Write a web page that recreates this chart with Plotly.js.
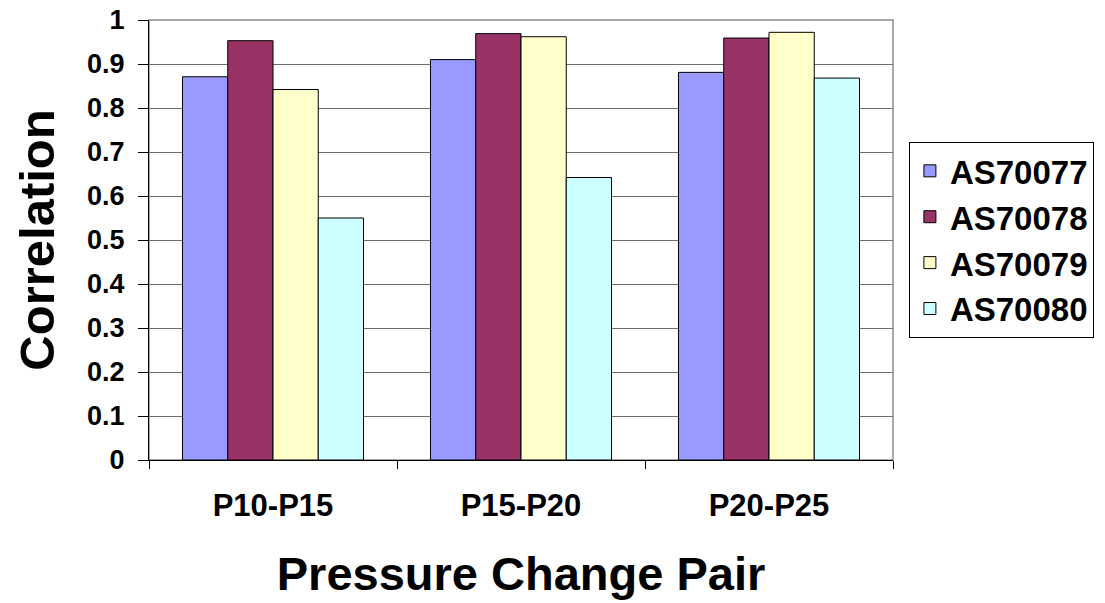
<!DOCTYPE html>
<html>
<head>
<meta charset="utf-8">
<script src="https://cdn.plot.ly/plotly-3.0.1.min.js"></script>
<style>
  html, body { margin: 0; padding: 0; background: #ffffff; }
  #chart { width: 1105px; height: 603px; }
</style>
</head>
<body>
<div id="chart"></div>
<script>
// Correlation of each sensor for the three pressure change pairs
const pairs = ["P10-P15", "P15-P20", "P20-P25"];
const sensors = ["AS70077", "AS70078", "AS70079", "AS70080"];
const as70077 = [0.871, 0.910, 0.881];
const as70078 = [0.953, 0.969, 0.959];
const as70079 = [0.842, 0.962, 0.972];
const as70080 = [0.550, 0.642, 0.868];
const seriesValues = [as70077, as70078, as70079, as70080];
const seriesColors = ["#9999FF", "#993366", "#FFFFCC", "#CCFFFF"];
const yTicks = [0, 0.1, 0.2, 0.3, 0.4, 0.5, 0.6, 0.7, 0.8, 0.9, 1];
const yTickText = ["0", "0.1", "0.2", "0.3", "0.4", "0.5", "0.6", "0.7", "0.8", "0.9", "1"];

const FONT = "Liberation Sans, Arial, sans-serif";

const traces = sensors.map((name, i) => ({
  type: "bar",
  name: name,
  x: pairs,
  y: seriesValues[i],
  marker: { color: seriesColors[i], line: { color: "#000000", width: 1 } },
  hoverinfo: "x+y+name"
}));

const layout = {
  width: 1105,
  height: 603,
  margin: { l: 149, r: 211, t: 20, b: 143, pad: 0 },
  paper_bgcolor: "#ffffff",
  plot_bgcolor: "#ffffff",
  font: { family: FONT, color: "#000000" },
  barmode: "group",
  bargap: 0.27,
  bargroupgap: 0,
  showlegend: true,
  legend: {
    x: 1.02, xanchor: "left",
    y: 0.723, yanchor: "top",
    bgcolor: "#ffffff",
    bordercolor: "#000000",
    borderwidth: 1,
    font: { family: FONT, size: 33, color: "#000000", weight: "bold" },
    tracegroupgap: 0
  },
  xaxis: {
    type: "category",
    tickson: "boundaries",
    ticks: "outside",
    ticklen: 8,
    tickcolor: "#000000",
    tickwidth: 1,
    showline: true,
    linecolor: "#000000",
    linewidth: 1,
    showgrid: false,
    zeroline: false,
    tickfont: { family: FONT, size: 31, weight: "bold" },
    ticklabelstandoff: 18,
    title: {
      text: "Pressure Change Pair",
      font: { family: FONT, size: 47, weight: "bold" },
      standoff: 34
    }
  },
  yaxis: {
    range: [0, 1],
    tickvals: yTicks,
    ticktext: yTickText,
    ticks: "outside",
    ticklen: 10,
    tickcolor: "#000000",
    tickwidth: 1,
    showline: true,
    linecolor: "#000000",
    linewidth: 1,
    showgrid: true,
    gridcolor: "#6e6e6e",
    gridwidth: 1,
    zeroline: false,
    tickfont: { family: FONT, size: 27, weight: "bold" },
    ticklabelstandoff: 8,
    title: {
      text: "Correlation",
      font: { family: FONT, size: 49, weight: "bold" },
      standoff: 16
    }
  },
  shapes: [{
    type: "rect", xref: "paper", yref: "paper",
    x0: 0, x1: 1, y0: 0, y1: 1,
    line: { color: "#8c8c8c", width: 1.5 },
    fillcolor: "rgba(0,0,0,0)",
    layer: "below"
  }]
};

Plotly.newPlot("chart", traces, layout, { displayModeBar: false, staticPlot: true });
</script>
</body>
</html>
